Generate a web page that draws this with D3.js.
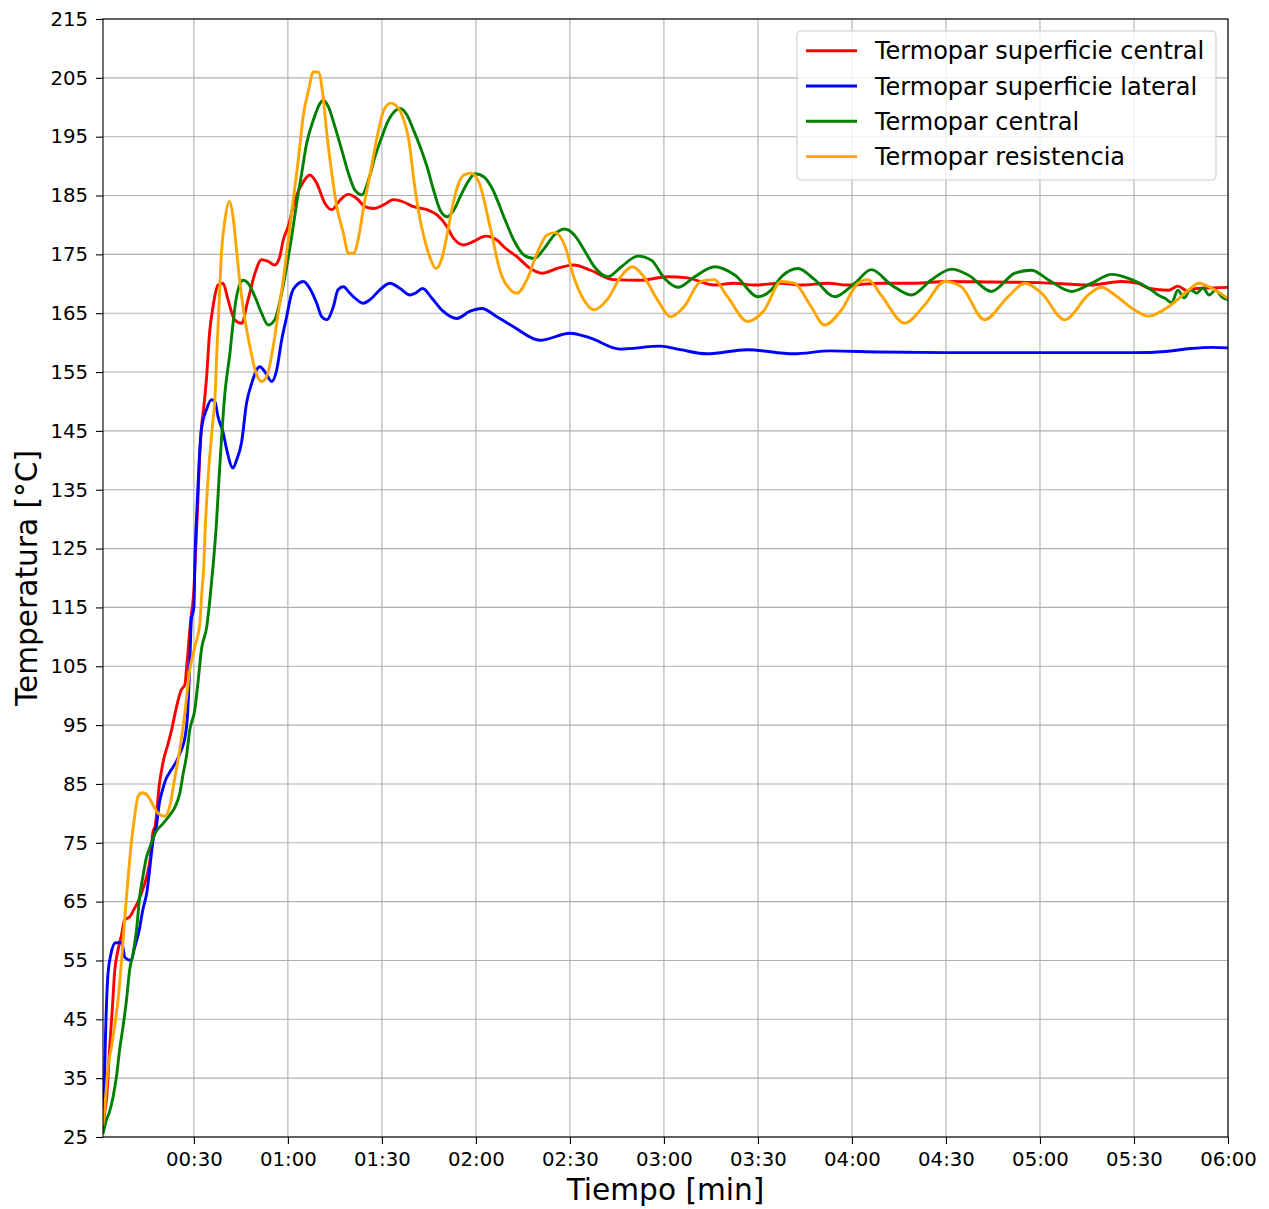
<!DOCTYPE html>
<meta charset="utf-8">
<script src="https://d3js.org/d3.v7.min.js"></script>
<style>
  body { margin: 0; background: #fff; }
  text { font-family: "DejaVu Sans", sans-serif; }
</style>
<div id="my_dataviz"></div>
<script>

// series: [time in s, temperature]
var seriesNames = ["Termopar superficie central", "Termopar superficie lateral", "Termopar central", "Termopar resistencia"];
var seriesColors = ["red", "blue", "green", "orange"];

var supCentral = [[1,27],[1.5,29],[2.2,32],[3.1,40],[4,47],[4.7,53],[5.8,56.8],[6.9,59.3],[7.9,61.9],[9.5,62.4],[11.1,63.9],[12.2,65],[13.3,66.5],[14.9,69.2],[16,72.1],[17,77],[17.6,77.7],[19,85],[20.2,88.8],[21.8,91.9],[22.9,94.2],[24,97],[25,99.3],[26,101],[27.1,101.8],[27.8,105.5],[29,113],[30,118],[30.5,124],[31.2,132],[31.8,140],[32.4,145.5],[33,148.3],[34,153.7],[35,161.6],[36.1,166.1],[37.7,169.8],[39.3,170.1],[40.9,167.3],[43,163.9],[45.2,163.3],[47.3,167.3],[49.5,171.8],[51.6,174.1],[53.7,173.8],[55.8,173.2],[57.4,174.6],[58.5,177.4],[60.1,179.7],[62.2,184.2],[65,187.4],[67,188.5],[69.2,187.1],[71.8,183.7],[74,182.6],[76.6,184.2],[79.3,185.2],[82,184.5],[84.6,183.1],[87.3,182.8],[90.5,183.4],[93.7,184.3],[96.9,183.9],[100.1,183.1],[104.4,182.6],[107.6,181.7],[110.8,179.7],[112.9,177.7],[116.1,176.6],[119.3,177.2],[123.1,178.1],[126.8,177.4],[128.9,176.3],[133.1,174.6],[137.4,172.6],[141.1,171.8],[145.9,172.6],[151.2,173.2],[156.6,172.3],[164,170.7],[172.6,170.6],[181.1,171.2],[187.5,171],[196,169.8],[202.4,170.1],[208.9,169.8],[217.4,170.1],[223.8,169.8],[232.3,170.1],[238.7,169.8],[249.4,170.1],[260,170.1],[270,170.4],[285,170.3],[300,170.2],[316,169.8],[326,170.4],[331,170.1],[335,169.2],[341,168.9],[344,169.6],[347,168.8],[350,169.2],[355,169.3],[360,169.4]];

var supLateral = [[1,26],[1.3,30],[1.7,40],[2.5,52],[3.5,56],[5,58],[7,58],[8,55.5],[10,55],[11,57],[12.5,60],[13.7,63.6],[15,66.6],[16,71],[17,75.5],[18,77.7],[19,81.8],[20,84],[21,85.7],[22.8,87.4],[24.4,88.8],[26,90.8],[27,92.5],[28,97],[28.7,105.6],[29.2,112.9],[30,115],[30.4,124.3],[31,132],[31.7,140],[32.4,145.2],[34,148.6],[35.6,150.3],[36.7,150],[37.7,147.4],[39.4,144.6],[40.4,142],[42.5,138.7],[43.6,140],[45.2,143],[46.8,149.7],[48.4,153],[51,155.9],[53,154.8],[54.8,153.4],[56.4,155.3],[58,160.4],[59.6,164.4],[61.2,168.4],[62.8,169.8],[65,170.4],[67,169.2],[69.2,166.7],[70.8,164.4],[72.4,163.9],[74.5,166.1],[76,169],[77.7,169.5],[79.8,168.4],[82,167.3],[84,166.7],[86.2,167.3],[89.4,169],[92.6,170.1],[95.8,169.2],[99,168.1],[100.6,168.4],[103,169.2],[105.9,167.6],[109.6,165.3],[113.9,164.1],[118,165.3],[121.9,165.8],[126.7,164.4],[132,162.7],[140.5,160.4],[150,161.6],[156.4,160.8],[166,158.9],[178.8,159.4],[185.2,158.8],[193.7,158.1],[206.5,158.8],[221.4,158.1],[233,158.6],[249,158.4],[275,158.3],[300,158.3],[330,158.3],[340,158.5],[348,159],[355,159.2],[360,159.1]];

var central = [[1,25.5],[2.1,27.9],[3.1,29.3],[4.2,31.8],[5.3,35.3],[6.3,39.8],[7.4,43.8],[8.5,48.3],[9.5,53.4],[10.6,56.2],[11.7,60.2],[12.7,65.8],[13.8,69.5],[14.9,72.6],[16,74.3],[17.6,76.6],[20.2,78.3],[22.3,79.7],[24,81.1],[25.5,83.4],[26.6,86.8],[27.6,89.6],[28.7,94.2],[30.3,97.6],[31.4,102.7],[32.4,107.8],[34.1,111.7],[35.1,116.3],[36.1,121.9],[37.2,129.3],[38,136.7],[38.8,143.5],[39.9,151.4],[41.5,158.2],[42.5,163.3],[43.6,167.8],[45.7,170.6],[47.3,170.1],[49.5,167.8],[51.6,165],[53.7,163],[55.8,163.9],[58,168.4],[59.6,172.9],[61.2,178],[62.8,183.7],[64.4,188.8],[66,193.9],[68.1,197.8],[70.3,200.7],[71.3,201.2],[72.9,200.1],[75,196.7],[77.2,192.7],[79.3,188.8],[81.4,185.9],[83.6,185.1],[85.7,187.6],[87.8,191.6],[90,195],[92.1,197.8],[94.2,199.4],[95.8,199.8],[98,198.7],[100.1,196.1],[102.2,193.3],[104.4,189.9],[106.5,185.9],[108.6,182.5],[110.8,181.4],[112.9,182.5],[115,184.8],[117.2,187.1],[119.8,188.7],[122.5,188.2],[125.2,186.2],[128.9,181.4],[132.1,177.4],[135.3,174.9],[138.6,174.3],[141.8,176],[145,178.3],[148.2,179.3],[151.4,178.3],[154.6,175.7],[157.8,172.9],[162.1,171.2],[166.4,172.9],[171.7,174.7],[176,174],[180.2,170.9],[184.5,169.4],[189.8,171.2],[196.2,172.9],[202.6,171.5],[210.1,167.8],[214.3,169],[217.5,171.2],[222.8,172.6],[228.1,170.7],[234.5,167.8],[240.9,170.1],[246.2,172.4],[252.6,169.8],[259,168.1],[265.4,170.7],[271.8,172.5],[277.1,171.5],[284.5,168.7],[292,171.8],[297.3,172.3],[302.6,170.7],[310.1,168.7],[316.5,170.1],[322.9,171.6],[329.3,170.7],[335.7,168.9],[338,168],[340,167.5],[342,166.8],[344,168.9],[346,167.6],[348,169],[350,168.4],[352,169.3],[354,168.1],[356,168.9],[358,167.8],[360,167.3]];

var resistencia = [[1,27],[1.5,29.6],[2.6,36.9],[3.7,40.3],[4.7,43.8],[5.8,48.3],[6.9,54.8],[7.9,61.9],[9,69],[10.1,75.2],[11.1,79.5],[12.2,82.9],[13.6,83.5],[15.4,82.9],[17,81.4],[18.6,80],[20.7,79.5],[22.3,81.2],[24,86.3],[25.5,90.8],[27.1,97],[28.7,104.4],[30.3,108.3],[31.9,112.3],[32.6,118],[33.1,121.4],[33.6,128.2],[34.5,136.7],[35.6,144],[36.1,146.9],[36.7,150.3],[37.3,158],[38,166.1],[38.8,175.2],[39.9,180.8],[41.3,184],[42.5,181.4],[43.6,175.8],[44.7,170.1],[46.3,163.9],[47.9,159.3],[49.5,155.4],[51.6,153.4],[53.2,154.2],[55.3,159.3],[56.9,165],[58.5,170.6],[60.1,177.4],[61.7,184.2],[63.3,191],[65,198.9],[66.6,202.9],[68.1,206],[69.7,206],[71.1,202.4],[72.4,195.6],[74,188.8],[75.6,183.1],[77.7,178.6],[79.3,175.2],[81,175.2],[82.6,178],[84.2,183.1],[86.3,188.8],[88.5,195],[90.6,199.5],[92.8,200.7],[94.9,200.1],[97,197.8],[98.6,194.4],[100.2,187.6],[101.8,182],[103.4,178],[105.6,174.1],[107.2,172.6],[109.3,174.6],[110.9,178.6],[112.5,183.1],[114.1,186.5],[116.2,188.5],[118.4,188.8],[121,187.2],[124.6,179.5],[127.8,172],[131,169],[133.1,168.4],[136.3,170.7],[139.5,175.2],[142.7,178.3],[145.3,178.7],[148.5,176.3],[151.2,171.2],[154.4,167.3],[157.7,165.6],[161.9,167.3],[166.2,171.2],[169.9,172.9],[173.6,171.2],[177.9,167.3],[182.2,164.4],[186.4,166.1],[191.8,170.4],[196,170.7],[200.3,167.8],[206.7,163.6],[212,165.5],[217.4,170.4],[221.6,170.1],[227,166.1],[231.2,163],[236.6,165.5],[241.9,170.1],[245.1,170.7],[249.4,168],[256.8,163.3],[263.2,166.4],[269.6,170.4],[274.9,169.5],[282.3,163.9],[289.8,167.8],[295.2,170.1],[300.5,168.4],[307.9,163.9],[315.4,168.1],[319.6,169.4],[323.9,168.1],[330.3,165.5],[334.6,164.5],[341,166.1],[347.4,168.9],[350.6,170.1],[355.9,168.9],[360,167.5]];

var allSeries = [supCentral, supLateral, central, resistencia];

// ticks
var xTicks = d3.range(30, 361, 30);
var yTicks = d3.range(25, 216, 10);

// margins
var margin = {top: 19, right: 41, bottom: 72, left: 103},
    width = 1269 - margin.left - margin.right,
    height = 1209 - margin.top - margin.bottom;

var svg = d3.select("#my_dataviz")
  .append("svg")
    .attr("width", 1269)
    .attr("height", 1209)
  .append("g")
    .attr("transform", "translate(" + margin.left + "," + margin.top + ")");

var x = d3.scaleLinear().domain([1, 360]).range([0, width]);
var y = d3.scaleLinear().domain([25, 215]).range([height, 0]);

function fmt(s) {
  var m = Math.floor(s / 60), r = s % 60;
  return (m < 10 ? "0" : "") + m + ":" + (r < 10 ? "0" : "") + r;
}

// grid
svg.append("g").selectAll("line").data(xTicks).enter().append("line")
    .attr("x1", function(d) { return x(d); }).attr("x2", function(d) { return x(d); })
    .attr("y1", 0).attr("y2", height)
    .attr("stroke", "#b0b0b0").attr("stroke-width", 1.1);
svg.append("g").selectAll("line").data(yTicks).enter().append("line")
    .attr("y1", function(d) { return y(d); }).attr("y2", function(d) { return y(d); })
    .attr("x1", 0).attr("x2", width)
    .attr("stroke", "#b0b0b0").attr("stroke-width", 1.1);

// lines
svg.append("clipPath").attr("id", "clip")
  .append("rect").attr("width", width).attr("height", height);

var line = d3.line()
    .x(function(d) { return x(d[0]); })
    .y(function(d) { return y(d[1]); })
    .curve(d3.curveMonotoneX);

svg.append("g").attr("clip-path", "url(#clip)")
  .selectAll("path").data(allSeries).enter().append("path")
    .attr("d", line)
    .attr("fill", "none")
    .attr("stroke", function(d, i) { return seriesColors[i]; })
    .attr("stroke-width", 2.9)
    .attr("stroke-linejoin", "round");

// axes
var xAxis = svg.append("g")
    .attr("transform", "translate(0," + height + ")")
    .call(d3.axisBottom(x).tickValues(xTicks).tickFormat(fmt).tickSize(7).tickPadding(8).tickSizeOuter(0));
var yAxis = svg.append("g")
    .call(d3.axisLeft(y).tickValues(yTicks).tickSize(7).tickPadding(8).tickSizeOuter(0));

[xAxis, yAxis].forEach(function(a) {
  a.selectAll("text").style("font-size", "19.7px").attr("fill", "#000").style("font-family", "DejaVu Sans");
  a.selectAll("line").attr("stroke", "#000").attr("stroke-width", 1.1);
  a.select(".domain").remove();
});

// frame
svg.append("rect")
    .attr("width", width).attr("height", height)
    .attr("fill", "none").attr("stroke", "#000").attr("stroke-width", 1.1);

// labels
svg.append("text")
    .attr("x", width / 2).attr("y", 1200 - margin.top)
    .attr("text-anchor", "middle")
    .style("font-size", "29.6px")
    .text("Tiempo [min]");
svg.append("text")
    .attr("transform", "translate(" + (37 - margin.left) + "," + (height / 2) + ") rotate(-90)")
    .attr("text-anchor", "middle")
    .style("font-size", "29.6px")
    .text("Temperatura [°C]");

// legend
var legend = svg.append("g").attr("transform", "translate(" + (797 - margin.left) + "," + (31 - margin.top) + ")");
legend.append("rect")
    .attr("width", 419).attr("height", 149).attr("rx", 4)
    .attr("fill", "#fff").attr("fill-opacity", 0.8)
    .attr("stroke", "#cccccc").attr("stroke-width", 1.1);
seriesNames.forEach(function(n, i) {
  var yy = 19.7 + i * 35.3;
  legend.append("line")
      .attr("x1", 9).attr("x2", 60).attr("y1", yy).attr("y2", yy)
      .attr("stroke", seriesColors[i]).attr("stroke-width", 2.9);
  legend.append("text")
      .attr("x", 78).attr("y", yy).attr("dy", "0.36em")
      .style("font-size", "24px")
      .text(n);
});
</script>
